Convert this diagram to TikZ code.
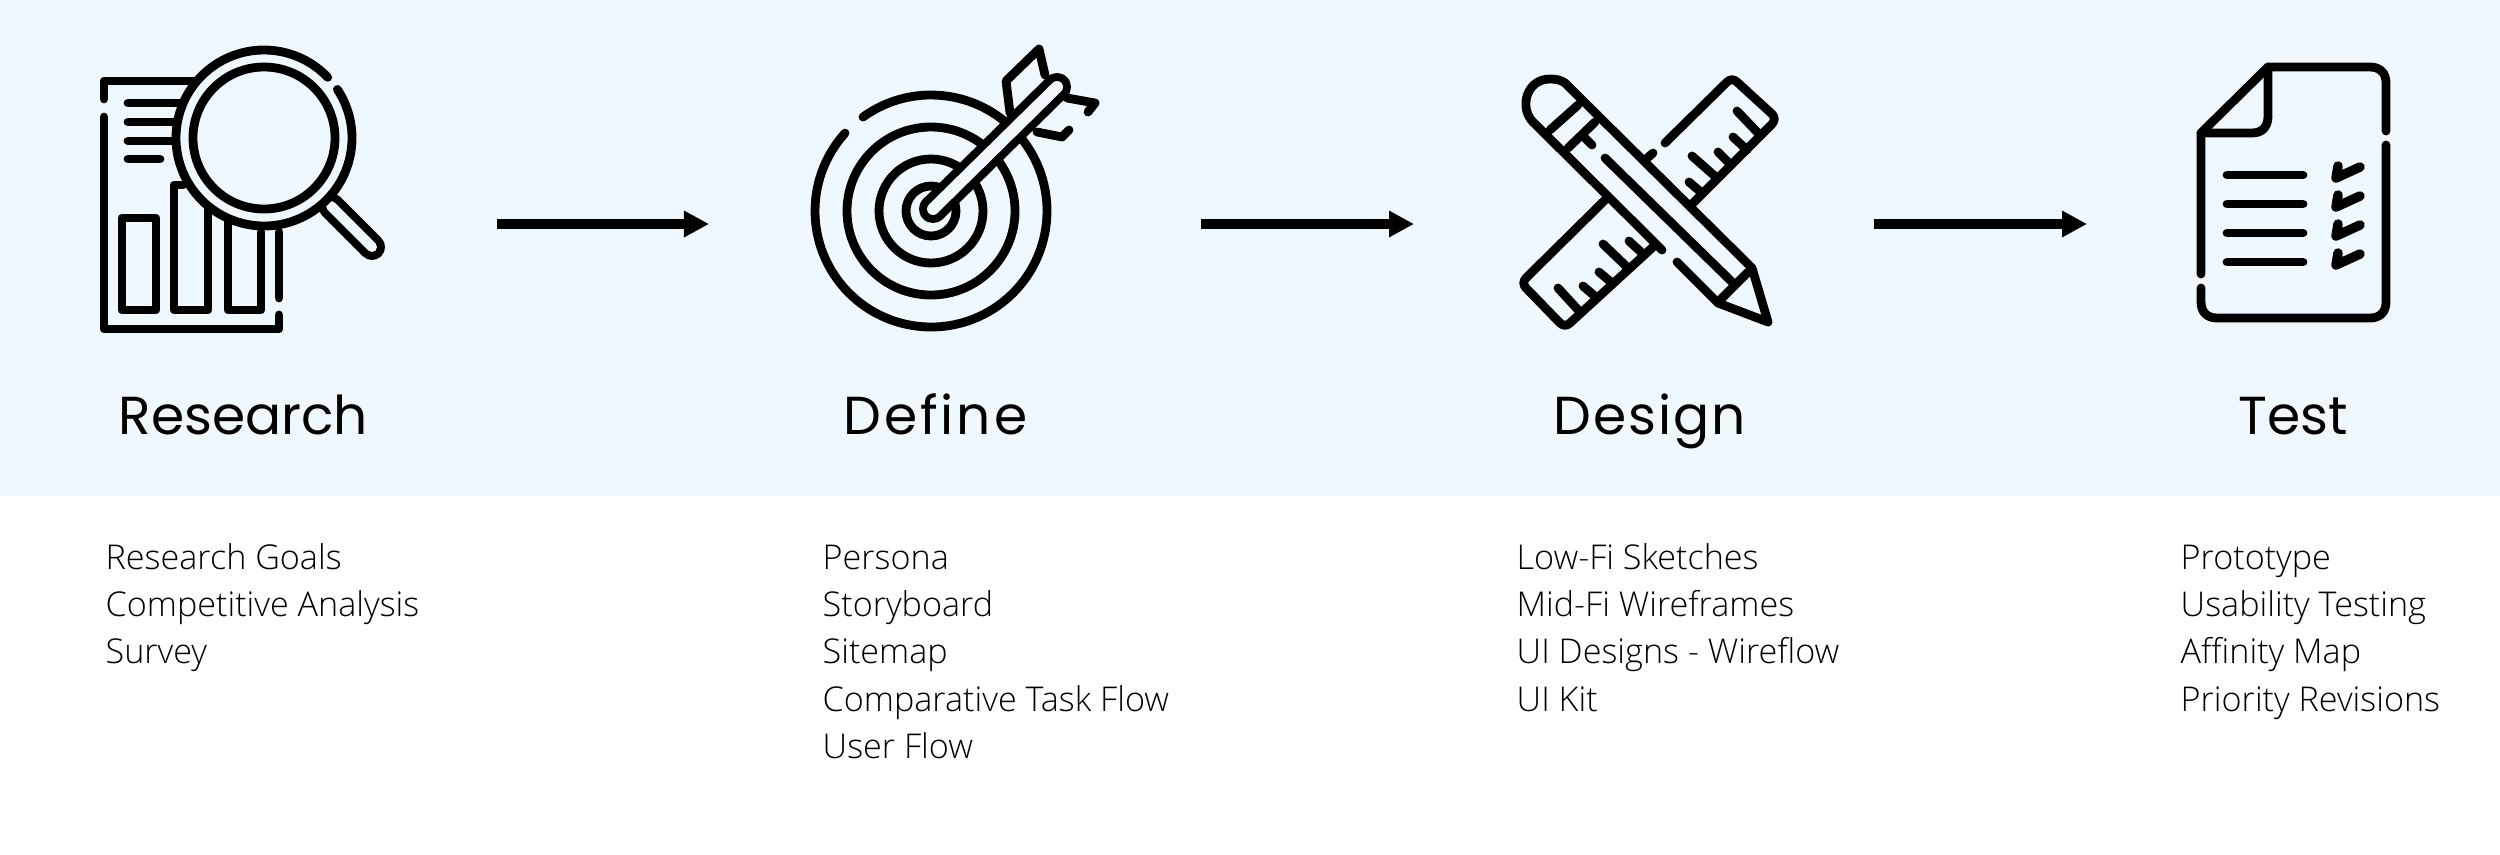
\documentclass[tikz,border=0pt]{standalone}
\usepackage{fontspec}
\usetikzlibrary{arrows.meta}
\setmainfont{Open Sans}
\newfontfamily\titlef{Poppins}
\newfontfamily\titledf[LetterSpace=5.4]{Poppins}
\newfontfamily\titlegf[LetterSpace=3.6]{Poppins}
\newfontfamily\bodyf{Open Sans Light}
\definecolor{bandc}{HTML}{F0F8FF}
\tikzset{
  x=0.01cm,y=-0.01cm,
  ico/.style={draw=black,line width=0.088cm,line cap=round,line join=round},
  ticon/.style={ico,line width=0.095cm},
  flow/.style={draw=black,line width=0.1cm,-{Triangle[length=0.25cm,width=0.25cm]}},
  title/.style={anchor=base west,inner sep=0pt,font=\titlef\fontsize{15.2pt}{18pt}\selectfont,text=black},
  item/.style={anchor=base west,inner sep=0pt,font=\bodyf\fontsize{9.71pt}{13pt}\selectfont,text=black},
}
\begin{document}
\begin{tikzpicture}
\useasboundingbox (0,0) rectangle (2500,854);
\fill[white] (0,0) rectangle (2500,854);
\fill[bandc] (0,0) rectangle (2500,496);

% Research icon
\draw[ico] (104,99) -- (104,81) -- (197,81);
\draw[ico] (104,117) -- (104,329) -- (279,329) -- (279,315);
\draw[ico] (279,298) -- (279,232);
\draw[ico] (128,103) -- (180,103) (128,122) -- (175,122) (128,141) -- (173,141) (128,159) -- (160,159);
\draw[ico] (122,218) rectangle (156,310);
\draw[ico] (183,185) -- (174,185) -- (174,310) -- (208,310) -- (208,208);
\draw[ico] (228,220) -- (228,310) -- (261,310) -- (261,232);
\draw[black,line width=0.26cm,line cap=round] (331,206) -- (372,247);
\draw[bandc,line width=0.10cm,line cap=round] (331,206) -- (372,247);
\fill[bandc] (264,138) circle[radius=88];
\draw[ico] (264,138) circle[radius=71];
\draw[ico] (264,138) ++(-33.5:88) arc[start angle=-33.5,end angle=316.4,radius=88];

% Define icon
\draw[ico] (931,211) ++(-125.9:116) arc[start angle=-125.9,end angle=222.2,radius=116];
\draw[ico] (931,211) circle[radius=84];
\draw[ico] (931,211) circle[radius=52];
\draw[ico] (931,211) circle[radius=25];
\draw[ico] (1010,113) -- (1006,81) -- (1039,49) -- (1045,75);
\draw[ico] (1067,98) -- (1095,103) -- (1088,112);
\draw[ico] (1037,132) -- (1062,137) -- (1069,130);
\draw[black,line width=0.28cm,line cap=round] (933,209) -- (1057,87);
\draw[bandc,line width=0.12cm,line cap=round] (933,209) -- (1057,87);

% Design icon
\draw[ico] (1533,122) .. controls (1519,108) and (1526,79) .. (1550,79) .. controls (1556,79) and (1561,80) .. (1565,83) -- (1752,268) -- (1768,322) -- (1718,303) -- (1677,262);
\draw[ico] (1533,122) -- (1662,250);
\draw[ico] (1605,158) -- (1732,282);
\draw[ico] (1720,300) -- (1748,272);
\draw[ico] (1550,130) -- (1578,105) (1568,148) -- (1595,122) (1585,138) -- (1592,145);
\draw[ico] (1665,143) -- (1727,82) .. controls (1730,79) and (1734,79) .. (1737,82) -- (1772,114) .. controls (1775,117) and (1775,121) .. (1772,124) -- (1693,203);
\draw[ico] (1607,198) -- (1526,278) .. controls (1523,281) and (1523,285) .. (1526,288) -- (1560,323) .. controls (1563,326) and (1567,326) .. (1570,323) -- (1653,247);
\draw[ico] (1645,160) -- (1653,153);
\draw[ico] (1737,111) -- (1758,133) (1733,137) -- (1747,150) (1718,152) -- (1731,165) (1692,156) -- (1717,178) (1689,182) -- (1702,193);
\draw[ico] (1603,244) -- (1627,267) (1629,241) -- (1642,253) (1599,272) -- (1612,283) (1583,286) -- (1597,298) (1558,288) -- (1580,312);

% Test icon
\draw[ico] (2386,131) -- (2386,83) .. controls (2386,73) and (2380,67) .. (2370,67) -- (2268,67) -- (2201,133) -- (2201,274);
\draw[ico] (2268,67) -- (2268,116) .. controls (2268,127) and (2262,133) .. (2252,133) -- (2201,133);
\draw[ico] (2386,145) -- (2386,302) .. controls (2386,312) and (2380,318) .. (2370,318) -- (2217,318) .. controls (2207,318) and (2201,312) .. (2201,302) -- (2201,288);
\draw[ico] (2227,175) -- (2303,175) (2227,204) -- (2303,204) (2227,233) -- (2303,233) (2227,262) -- (2303,262);
\foreach \d in {0,29,58,87}{
  \draw[ticon] (2338,166+\d) -- (2336,178+\d) -- (2360,167+\d);
}

% Flow arrows
\coordinate (r) at (497,224);
\coordinate (d) at (709,224);
\coordinate (d2) at (1201,224);
\coordinate (g) at (1414,224);
\coordinate (g2) at (1874,224);
\coordinate (t) at (2087,224);
\draw[flow] (r) -- (d);
\draw[flow] (d2) -- (g);
\draw[flow] (g2) -- (t);

% Titles
\node[title] (t1) at (118,434.5) {Research};
\node[title,font=\titledf\fontsize{15.2pt}{18pt}\selectfont] (t2) at (843,434.5) {Define};
\node[title,font=\titlegf\fontsize{15.2pt}{18pt}\selectfont] (t3) at (1553,434.5) {Design};
\node[title] (t4) at (2238,434.5) {Test};

% Lists
\node[item] (a1) at (105,569) {Research Goals};
\node[item] (a2) at (105,616) {Competitive Analysis};
\node[item] (a3) at (105,663.5) {Survey};
\node[item] (b1) at (822,569) {Persona};
\node[item] (b2) at (822,616) {Storyboard};
\node[item] (b3) at (822,663.5) {Sitemap};
\node[item] (b4) at (822,711) {Comparative Task Flow};
\node[item] (b5) at (822,758) {User Flow};
\node[item] (c1) at (1516,569) {Low-Fi Sketches};
\node[item] (c2) at (1516,616) {Mid-Fi Wireframes};
\node[item] (c3) at (1516,663.5) {UI Designs - Wireflow};
\node[item] (c4) at (1516,711) {UI Kit};
\node[item] (e1) at (2180,569) {Prototype};
\node[item] (e2) at (2180,616) {Usability Testing};
\node[item] (e3) at (2180,663.5) {Affinity Map};
\node[item] (e4) at (2180,711) {Priority Revisions};
\end{tikzpicture}
\end{document}
